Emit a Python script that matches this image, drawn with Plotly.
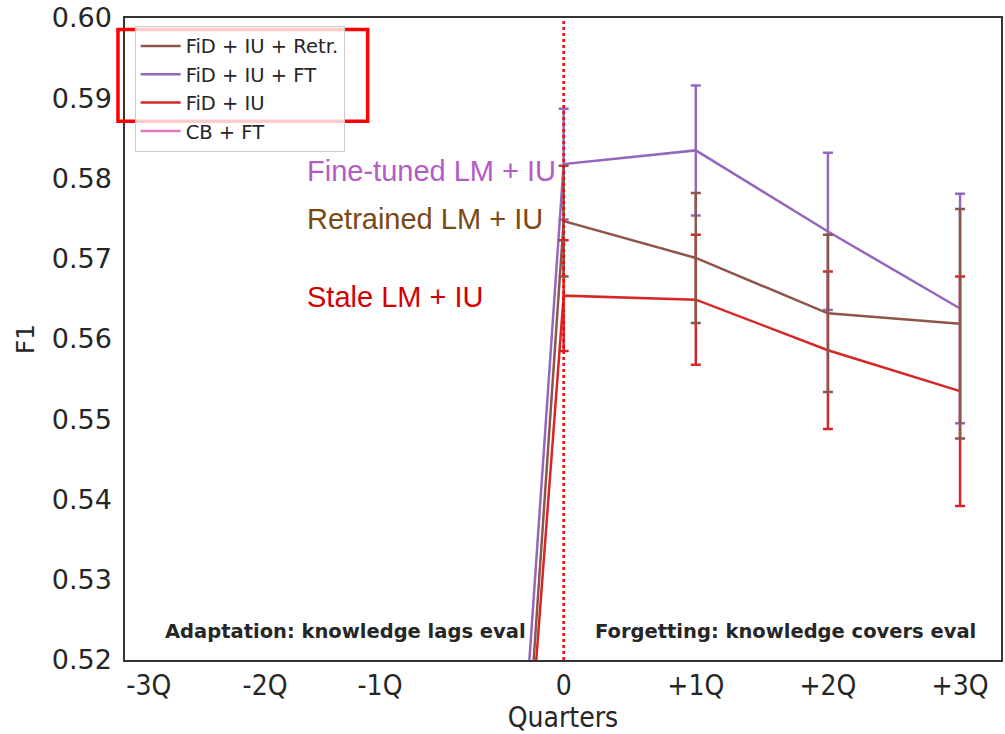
import plotly.graph_objects as go

# Tick positions (as drawn on the original, non-uniform axis) and labels
tick_pos = [-3.14, -2.26, -1.39, 0, 1, 2, 3]
tick_labels = ["-3Q", "-2Q", "-1Q", "0", "+1Q", "+2Q", "+3Q"]

# x positions of series points
x_pts = [-1.39, 0, 1, 2, 3]

retr_vals = [0.240, 0.5747, 0.5701, 0.5632, 0.5619]
ft_vals = [0.2505, 0.5818, 0.5835, 0.5734, 0.5638]
iu_vals = [0.2610, 0.5654, 0.5649, 0.5586, 0.5535]
cbft_vals = [0.30, 0.47, 0.465, 0.46, 0.455]

err_vals = [0.0, 0.0069, 0.0081, 0.0098, 0.0143]
cbft_err = [0.0, 0.0, 0.0, 0.0, 0.0]

series = [
    ("FiD + IU + FT", ft_vals, err_vals, "#9467bd", 2),
    ("FiD + IU", iu_vals, err_vals, "#d62728", 3),
    ("FiD + IU + Retr.", retr_vals, err_vals, "#8c564b", 1),
    ("CB + FT", cbft_vals, cbft_err, "#e377c2", 4),
]

fig = go.Figure()
for name, vals, errs, color, rank in series:
    fig.add_trace(go.Scatter(
        x=x_pts, y=vals, mode="lines", name=name, legendrank=rank,
        line=dict(color=color, width=2.5),
        error_y=dict(type="data", array=errs, visible=True, color=color,
                     thickness=2.5, width=5),
    ))

fig.add_vline(x=0, line=dict(color="red", width=2.5, dash="dot"))

ann_font = "Liberation Sans, Arial"
fig.add_annotation(x=-1.96, y=0.5809, xref="x", yref="y", text="Fine-tuned LM + IU",
                   showarrow=False, font=dict(family=ann_font, size=29, color="#b45cc6"),
                   xanchor="left")
fig.add_annotation(x=-1.96, y=0.5749, xref="x", yref="y", text="Retrained LM + IU",
                   showarrow=False, font=dict(family=ann_font, size=29, color="#7a4a12"),
                   xanchor="left")
fig.add_annotation(x=-1.96, y=0.5652, xref="x", yref="y", text="Stale LM + IU",
                   showarrow=False, font=dict(family=ann_font, size=29, color="#d40000"),
                   xanchor="left")

fig.add_annotation(x=-1.65, y=0.5235, xref="x", yref="y", text="<b>Adaptation: knowledge lags eval</b>",
                   showarrow=False, font=dict(family="DejaVu Sans", size=19.5, color="#262626"))
fig.add_annotation(x=1.68, y=0.5235, xref="x", yref="y", text="<b>Forgetting: knowledge covers eval</b>",
                   showarrow=False, font=dict(family="DejaVu Sans", size=19.5, color="#262626"))

# Red highlight box around the first three legend entries
fig.add_shape(type="rect", xref="paper", yref="paper",
              x0=-0.008, x1=0.277, y0=0.839, y1=0.982,
              line=dict(color="#ff0000", width=3.5), fillcolor="rgba(0,0,0,0)")

fig.update_layout(
    width=1005, height=734,
    margin=dict(l=125, r=2, t=17, b=74),
    plot_bgcolor="white", paper_bgcolor="white",
    showlegend=True,
    legend=dict(x=0.011, y=0.988, xanchor="left", yanchor="top",
                bgcolor="rgba(255,255,255,0.8)", bordercolor="#cccccc", borderwidth=1,
                font=dict(family="DejaVu Sans", size=19.5, color="#262626"),
                tracegroupgap=0, itemwidth=40),
    xaxis=dict(range=[-3.32, 3.31], tickvals=tick_pos, ticktext=tick_labels,
               showgrid=False, zeroline=False, showline=True, mirror=True,
               linecolor="#333333", linewidth=1.5, ticks="",
               tickfont=dict(family="DejaVu Sans Condensed, DejaVu Sans", size=28, color="#262626"),
               title=dict(text="Quarters", font=dict(family="DejaVu Sans Condensed, DejaVu Sans", size=28, color="#262626"), standoff=4)),
    yaxis=dict(range=[0.52, 0.60], dtick=0.01, tickformat=".2f",
               showgrid=False, zeroline=False, showline=True, mirror=True,
               linecolor="#333333", linewidth=1.5, ticks="", ticklabelstandoff=6,
               tickfont=dict(family="DejaVu Sans", size=27, color="#262626"),
               title=dict(text="F1", font=dict(family="DejaVu Sans", size=25, color="#262626"), standoff=10)),
)

fig.write_html("out.html")
